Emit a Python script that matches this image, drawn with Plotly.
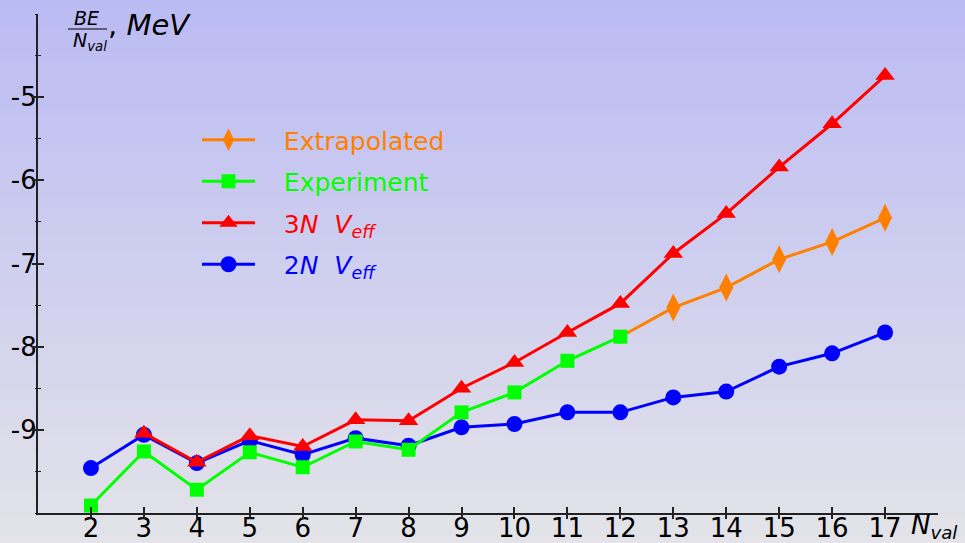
import plotly.graph_objects as go

# ---- data ----
n_val = list(range(2, 18))
be_2n = [-9.46, -9.06, -9.40, -9.13, -9.30, -9.10, -9.19, -8.97, -8.93, -8.79, -8.79, -8.61, -8.54, -8.24, -8.08, -7.83]
n_3n = list(range(3, 18))
be_3n = [-9.04, -9.39, -9.07, -9.20, -8.88, -8.89, -8.50, -8.19, -7.83, -7.48, -6.88, -6.40, -5.84, -5.32, -4.74]
n_exp = list(range(2, 13))
be_exp = [-9.91, -9.26, -9.72, -9.27, -9.45, -9.14, -9.24, -8.79, -8.55, -8.17, -7.88]
n_extr = list(range(12, 18))
be_extr = [-7.88, -7.53, -7.29, -6.95, -6.74, -6.45]

x_ticks = list(range(2, 18))
x_ticktext = [str(v) for v in x_ticks]
y_ticks = [-9, -8, -7, -6, -5]
y_ticktext = ["-9", "-8", "-7", "-6", "-5"]

BLUE = "#0000ff"
RED = "#ff0000"
GREEN = "#00ff00"
ORANGE = "#ff8000"
FONT = "DejaVu Sans"
PAD = "&nbsp;&nbsp;&nbsp;"

fig = go.Figure()
fig.add_trace(go.Scatter(x=n_val, y=be_2n, mode="lines+markers",
                         name=PAD + "<span style='color:#0000ff'>2<i>N</i>  <i>V<sub>eff</sub></i></span>",
                         line=dict(color=BLUE, width=3),
                         marker=dict(symbol="circle", size=16, color=BLUE, line=dict(width=0)),
                         legendrank=4, legendgroup="a"))
fig.add_trace(go.Scatter(x=n_3n, y=be_3n, mode="lines+markers",
                         name=PAD + "<span style='color:#ff0000'>3<i>N</i>  <i>V<sub>eff</sub></i></span>",
                         line=dict(color=RED, width=3),
                         marker=dict(symbol="triangle-up", size=17, color=RED, line=dict(width=0)),
                         legendrank=3, legendgroup="b"))
# connector from the last experimental point (N=12) to the first extrapolated one: line only
fig.add_trace(go.Scatter(x=n_extr[:2], y=be_extr[:2], mode="lines",
                         line=dict(color=ORANGE, width=3), showlegend=False, hoverinfo="skip"))
fig.add_trace(go.Scatter(x=n_extr[1:], y=be_extr[1:], mode="lines+markers",
                         name=PAD + "<span style='color:#ff8000'>Extrapolated</span>",
                         line=dict(color=ORANGE, width=3),
                         marker=dict(symbol="diamond-tall", size=20, color=ORANGE, line=dict(width=0)),
                         legendrank=1, legendgroup="c"))
fig.add_trace(go.Scatter(x=n_exp, y=be_exp, mode="lines+markers",
                         name=PAD + "<span style='color:#00ff00'>Experiment</span>",
                         line=dict(color=GREEN, width=3),
                         marker=dict(symbol="square", size=14, color=GREEN, line=dict(width=0)),
                         legendrank=2, legendgroup="d"))

# gradient background strips (paper area)
top = (187, 187, 244)
bot = (227, 227, 233)
nstrip = 60
y0p, y1p = -32 / 499, 515 / 499
shapes = []
for i in range(nstrip):
    t = i / (nstrip - 1)
    c = tuple(round(bot[k] + (top[k] - bot[k]) * t) for k in range(3))
    ya = y0p + (y1p - y0p) * i / nstrip
    yb = y0p + (y1p - y0p) * (i + 1) / nstrip + 0.002
    shapes.append(dict(type="rect", xref="paper", yref="paper", x0=-0.06, x1=1.06,
                       y0=ya, y1=yb, fillcolor="rgb(%d,%d,%d)" % c, line=dict(width=0),
                       layer="below"))
# fraction bar of the y title
shapes.append(dict(type="line", xref="paper", yref="paper", x0=(68 - 38) / 900, x1=(107 - 38) / 900,
                   y0=(513 - 29) / 499, y1=(513 - 29) / 499, line=dict(color="black", width=1.2)))

axcol = "#222222"
fig.update_layout(
    width=965, height=543,
    margin=dict(l=38, r=27, t=14, b=30, autoexpand=False),
    paper_bgcolor="rgb(210,210,238)",
    plot_bgcolor="rgba(0,0,0,0)",
    showlegend=True,
    shapes=shapes,
    font=dict(family=FONT, size=26, color="black"),
    xaxis=dict(range=[1, 18], tickvals=x_ticks, ticktext=x_ticktext, showline=True,
               linecolor=axcol, linewidth=2, ticks="inside", ticklen=6, tickwidth=1.5,
               tickcolor=axcol, showgrid=False, zeroline=False, mirror=False, automargin=False,
               ticklabelstandoff=-9,
               tickfont=dict(size=26, family=FONT)),
    yaxis=dict(range=[-10, -4], tickvals=y_ticks, ticktext=y_ticktext, showline=True,
               linecolor=axcol, linewidth=2, ticks="inside", ticklen=6, tickwidth=1.5,
               tickcolor=axcol, showgrid=False, zeroline=False, automargin=False,
               ticklabelstandoff=-6,
               minor=dict(dtick=0.5, tick0=0, ticks="inside", ticklen=3, tickwidth=1.2, tickcolor=axcol),
               tickfont=dict(size=26, family=FONT)),
    xaxis2=dict(range=[1, 18], overlaying="x", anchor="y", tickvals=x_ticks, showticklabels=False,
                ticks="outside", ticklen=5, tickwidth=1.5, tickcolor=axcol, showline=False,
                showgrid=False, zeroline=False, automargin=False),
    yaxis2=dict(range=[-10, -4], overlaying="y", anchor="x", tickvals=y_ticks, showticklabels=False,
                ticks="outside", ticklen=5, tickwidth=1.5, tickcolor=axcol, showline=False,
                showgrid=False, zeroline=False, automargin=False,
                minor=dict(dtick=0.5, tick0=0, ticks="outside", ticklen=2, tickwidth=1.2, tickcolor=axcol)),
    legend=dict(x=(197 - 38) / 900, y=(513 - 117) / 499, xanchor="left", yanchor="top",
                bgcolor="rgba(0,0,0,0)", borderwidth=0, itemwidth=53,
                font=dict(family=FONT, size=25), tracegroupgap=6),
    annotations=[
        dict(text="<i>BE</i>", xref="paper", yref="paper", x=(86 - 38) / 900, y=(513 - 18) / 499,
             xanchor="center", yanchor="middle", showarrow=False, font=dict(size=19, family=FONT)),
        dict(text="<i>N<sub>val</sub></i>", xref="paper", yref="paper", x=(90 - 38) / 900, y=(513 - 42) / 499,
             xanchor="center", yanchor="middle", showarrow=False, font=dict(size=19, family=FONT)),
        dict(text=", <i>MeV</i>", xref="paper", yref="paper", x=(106 - 38) / 900, y=(513 - 25) / 499,
             xanchor="left", yanchor="middle", showarrow=False, font=dict(size=29, family=FONT)),
        dict(text="<i>N<sub>val</sub></i>", xref="paper", yref="paper", x=(909 - 38) / 900, y=(513 - 526) / 499,
             xanchor="left", yanchor="middle", showarrow=False, font=dict(size=26, family=FONT)),
    ],
)
fig.add_trace(go.Scatter(x=[], y=[], xaxis="x2", yaxis="y2", showlegend=False, hoverinfo="skip"))

fig.write_html("out.html")
